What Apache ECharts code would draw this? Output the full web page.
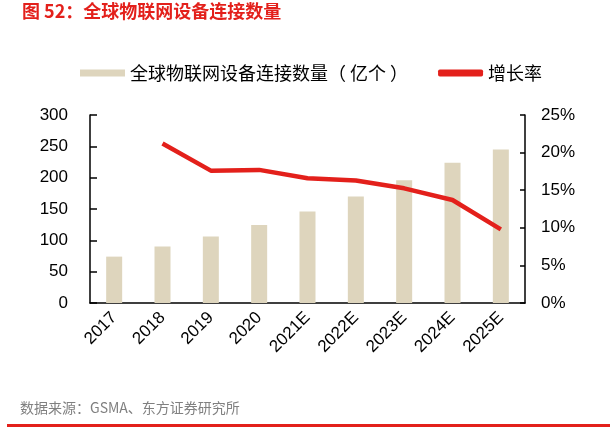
<!DOCTYPE html>
<html><head><meta charset="utf-8">
<script src="https://cdn.jsdelivr.net/npm/echarts@6/dist/echarts.min.js"></script>
<style>html,body{margin:0;padding:0;background:#fff}#c{width:610px;height:429px}</style>
</head><body><div id="c"></div>
<script>
const categories = ['2017','2018','2019','2020','2021E','2022E','2023E','2024E','2025E'];
const connections = [74, 90, 106, 124.5, 146, 170, 196, 224, 245];
const growth = [null, 21.2, 17.6, 17.7, 16.6, 16.3, 15.25, 13.7, 9.8];
const leftTicks = [0, 300, 50];
const rightTicks = [0, 25, 5];
const F = '"Noto Sans CJK SC", "Noto Sans", sans-serif';
const N = '"Liberation Sans", Arial, sans-serif';
const chart = echarts.init(document.getElementById('c'));
chart.setOption({
  animation: false,
  textStyle: {fontFamily: F},
  graphic: [
    {type:'text', left: 22, top: 2, style:{text:'图 52：全球物联网设备连接数量', fill:'#e3201b', font:'bold 18px '+F}},
    {type:'text', left: 20, top: 401, style:{text:'数据来源：GSMA、东方证券研究所', fill:'#808080', font:'14px '+F}},
    {type:'rect', shape:{x:7, y:424, width:603, height:3}, style:{fill:'#e3201b'}}
  ],
  legend: {
    top: 59, left: 75, itemGap: 30,
    textStyle: {fontSize: 18, color:'#000', fontFamily: F},
    data: [
      {name:'全球物联网设备连接数量（ 亿个 ）', icon:'rect', itemStyle:{color:'#ded5bd'}},
      {name:'增长率', icon:'roundRect', itemStyle:{color:'#e3201b'}}
    ],
    itemWidth: 45, itemHeight: 7
  },
  grid: {left: 90, right: 85, top: 115, bottom: 126},
  xAxis: {
    type:'category', data: categories,
    axisLine:{lineStyle:{color:'#000', width:1.5}},
    axisTick:{show:false},
    axisLabel:{rotate:45, fontSize:17, color:'#000', margin:12, interval:0, fontFamily:N}
  },
  yAxis: [
    {type:'value', min:leftTicks[0], max:leftTicks[1], interval:leftTicks[2],
     splitLine:{show:false},
     axisLine:{show:true, lineStyle:{color:'#000', width:1.5}},
     axisTick:{show:true, inside:true, length:7, lineStyle:{color:'#000', width:1.5}},
     axisLabel:{fontSize:17, color:'#000', margin:22, fontFamily:N}},
    {type:'value', min:rightTicks[0], max:rightTicks[1], interval:rightTicks[2],
     splitLine:{show:false},
     axisLine:{show:true, lineStyle:{color:'#000', width:1.5}},
     axisTick:{show:true, inside:true, length:5, lineStyle:{color:'#000', width:1.5}},
     axisLabel:{fontSize:17, color:'#000', margin:16, formatter:'{value}%', fontFamily:N}}
  ],
  series: [
    {name:'全球物联网设备连接数量（ 亿个 ）', type:'bar', data: connections, barWidth:16,
     itemStyle:{color:'#ded5bd'}},
    {name:'增长率', type:'line', yAxisIndex:1, data: growth, symbol:'none',
     lineStyle:{color:'#e3201b', width:4.5}, itemStyle:{color:'#e3201b'}}
  ]
});
</script></body></html>
